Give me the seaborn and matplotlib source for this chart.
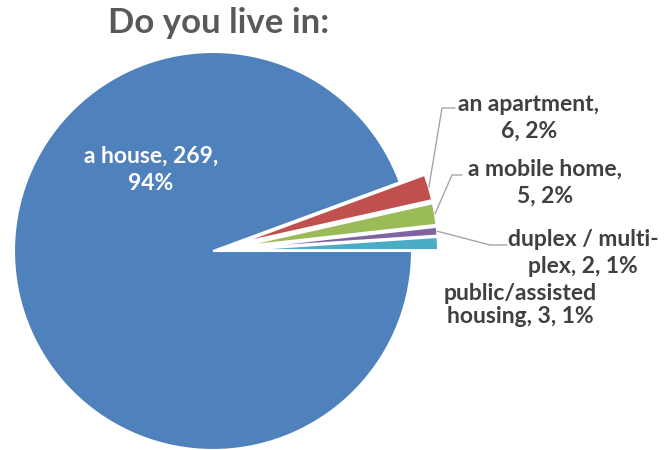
import textwrap
import numpy as np
import matplotlib
matplotlib.use("Agg")
import matplotlib.pyplot as plt
import seaborn as sns

# Survey answers
categories = ["a house", "an apartment", "a mobile home",
              "duplex / multi-plex", "public/assisted housing"]
counts = [269, 6, 5, 2, 3]
colors = ["#4F81BD", "#C0504D", "#9BBB59", "#8064A2", "#4BACC6"]
title = "Do you live in:"

sns.set_theme(style="white")
plt.rcParams["font.family"] = ["Lato", "DejaVu Sans"]

W, H = 670, 450
fig = plt.figure(figsize=(W / 100, H / 100), dpi=100)
ax = fig.add_axes([0, 0, 1, 1])
ax.set_xlim(0, W)
ax.set_ylim(0, H)
ax.set_aspect("equal")
ax.axis("off")

cx, cy, R = 213, H - 251, 199
# pie offsets are in data units here (pixels)
explode = [0, 26, 26, 26, 26]
wedges, _ = ax.pie(counts, colors=colors, explode=explode, startangle=0,
                   counterclock=False, center=(cx, cy), radius=R,
                   wedgeprops=dict(edgecolor="white", linewidth=1.5))
ax.set_xlim(0, W)
ax.set_ylim(0, H)

total = sum(counts)
labels = [textwrap.fill(f"{c}, {v}, {round(100 * v / total)}%", 15)
          for c, v in zip(categories, counts)]

label_color = "#404040"
fs = 16.5

# label for the large slice sits inside it
ax.text(151, H - 170, labels[0], ha="center", va="center", color="white",
        fontsize=fs, fontweight="bold", linespacing=1.35)

# outside labels: (text centre, elbow of leader line, leader start)
outside = {
    1: ((529, 118), (442, 108), (455, 108), 1.35),
    2: ((545, 183), (452, 175), (462, 175), 1.35),
    3: ((583, 253), (490, 245), (507, 245), 1.35),
    4: ((520, 305), None, None, 1.1),
}
for i, (tpos, elbow, start, ls) in outside.items():
    ax.text(tpos[0], H - tpos[1], labels[i], ha="center", va="center",
            color=label_color, fontsize=fs, fontweight="bold", linespacing=ls)
    if elbow is None:
        continue
    w = wedges[i]
    mid = np.deg2rad((w.theta1 + w.theta2) / 2)
    ox, oy = w.center
    ax_, ay_ = ox + w.r * np.cos(mid), oy + w.r * np.sin(mid)
    ax.plot([start[0], elbow[0], ax_], [H - start[1], H - elbow[1], ay_],
            color="#A6A6A6", lw=1)

fig.text(219 / W, 1 - 23 / H, title, ha="center", va="center",
         color="#595959", fontsize=25, fontweight="bold")

fig.savefig("out.png", dpi=100)
